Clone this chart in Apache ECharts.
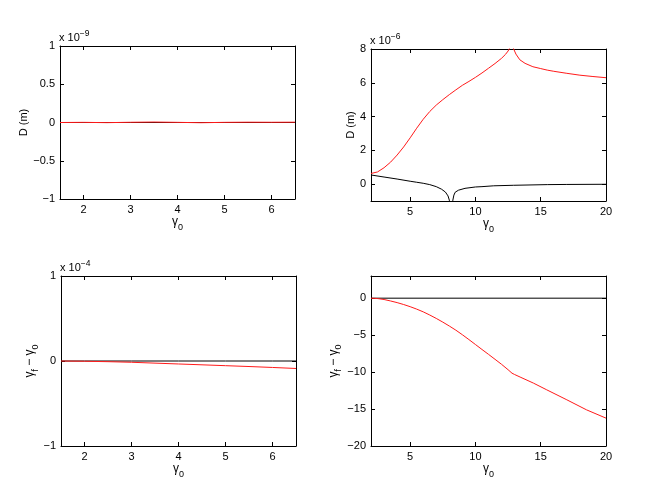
<!DOCTYPE html>
<html><head><meta charset="utf-8">
<script src="https://cdn.jsdelivr.net/npm/echarts@6/dist/echarts.min.js"></script>
<style>html,body{margin:0;padding:0;background:#fff}#c{width:651px;height:482px}</style>
</head><body><div id="c"></div>
<script>
// ---------- data ----------
// top-left: D (m) x 1e-9 vs gamma0
const tlX      = [1.5, 2, 2.5, 3, 3.5, 4, 4.5, 5, 5.5, 6, 6.5];
const tlRed    = [0, 0.002, -0.002, 0.003, 0.006, 0.002, -0.003, 0.002, 0.004, 0.003, 0.004];
const tlBlack  = [0, 0, 0, 0, 0, 0, 0, 0, 0, 0, 0];

// top-right: D (m) x 1e-6 vs gamma0
const trRedX   = [2, 2.5, 3, 3.5, 4, 4.5, 5, 5.5, 6, 6.5, 7, 7.5, 8, 8.5, 9, 9.5, 10, 10.5, 11, 11.5, 12, 12.3, 12.5, 12.6, 12.75, 12.9, 13.1, 13.4, 13.8, 14.4, 15, 15.5, 16, 17, 18, 19, 20];
const trRedY   = [0.63, 0.72, 0.97, 1.3, 1.72, 2.2, 2.74, 3.31, 3.84, 4.3, 4.68, 5.0, 5.3, 5.58, 5.85, 6.08, 6.32, 6.58, 6.86, 7.14, 7.45, 7.68, 7.88, 8.02, 8.6, 8.05, 7.7, 7.36, 7.15, 6.95, 6.84, 6.75, 6.68, 6.56, 6.45, 6.37, 6.3];
const trBlkAX  = [2, 3, 4, 5, 5.5, 6, 6.5, 7, 7.4, 7.7, 7.9, 8.0, 8.05];
const trBlkAY  = [0.54, 0.42, 0.3, 0.17, 0.11, 0.05, -0.03, -0.15, -0.3, -0.47, -0.7, -0.95, -1.3];
const trBlkBX  = [8.22, 8.27, 8.35, 8.45, 8.7, 9.2, 10, 10.5, 11.4, 12.9, 15.5, 17, 20];
const trBlkBY  = [-1.3, -0.95, -0.65, -0.48, -0.36, -0.25, -0.17, -0.15, -0.1, -0.07, -0.03, -0.02, -0.01];

// bottom-left: gamma_f - gamma_0 x 1e-4
const blX      = [1.5, 2, 2.5, 3, 3.5, 4, 4.5, 5, 5.5, 6, 6.5];
const blRed    = [0, -0.003, -0.008, -0.015, -0.025, -0.035, -0.045, -0.055, -0.065, -0.076, -0.088];
const blBlack  = [0, 0, 0, 0, 0, 0, 0, 0, 0, 0, 0];

// bottom-right: gamma_f - gamma_0
const brX      = [2, 2.5, 3, 3.5, 4, 4.5, 5, 5.5, 6, 6.5, 7, 7.5, 8, 8.5, 9, 9.5, 10, 10.5, 11, 11.5, 12, 12.5, 12.8, 13.0, 13.42, 14.44, 15.46, 17, 18.5, 20];
const brRed    = [0, -0.05, -0.18, -0.38, -0.6, -0.86, -1.15, -1.48, -1.85, -2.28, -2.74, -3.24, -3.77, -4.33, -4.95, -5.6, -6.27, -6.94, -7.6, -8.27, -8.95, -9.68, -10.15, -10.33, -10.67, -11.49, -12.4, -13.75, -15.1, -16.23];
const brBlkX   = [2, 20];
const brBlack  = [0, 0];

// ticks
const tlXTicks = [2, 3, 4, 5, 6];
const tlYTicks = [-1, -0.5, 0, 0.5, 1];
const trXTicks = [5, 10, 15, 20];
const trYTicks = [0, 2, 4, 6, 8];
const blXTicks = [2, 3, 4, 5, 6];
const blYTicks = [-1, 0, 1];
const brXTicks = [5, 10, 15, 20];
const brYTicks = [-20, -15, -10, -5, 0];

// ---------- chart ----------
const FONT = 'Liberation Sans, Arial, Helvetica, sans-serif';
const zip = (xs, ys) => xs.map((x, i) => [x, ys[i]]);
const fmt = v => String(v).replace('-', '\u2212');

const grids = [
  {left: 60, top: 46, width: 235, height: 153},
  {left: 371, top: 49, width: 235, height: 152},
  {left: 61, top: 276, width: 235, height: 170},
  {left: 371, top: 276, width: 235, height: 170}
];
const ranges = [
  {x: [1.5, 6.5], y: [-1, 1], xt: tlXTicks, yt: tlYTicks},
  {x: [2, 20], y: [-1, 8], xt: trXTicks, yt: trYTicks},
  {x: [1.5, 6.5], y: [-1, 1], xt: blXTicks, yt: blYTicks},
  {x: [2, 20], y: [-20, 3], xt: brXTicks, yt: brYTicks}
];
const gammaRich = {
  g: {fontSize: 12, fontFamily: FONT, color: '#000', lineHeight: 16, verticalAlign: 'top'},
  s: {fontSize: 9, fontFamily: FONT, color: '#000', lineHeight: 16, verticalAlign: 'bottom'}
};
const yNames = ['D (m)', 'D (m)', '{g|γ}{s|f}{g| \u2212 γ}{s|0}', '{g|γ}{s|f}{g| \u2212 γ}{s|0}'];
const yGaps = [31, 13, 21, 24];
const xGaps = [11, 11, 9, 9];

const xAxes = [], yAxes = [];
ranges.forEach((r, i) => {
  const line = {show: true, onZero: false, lineStyle: {color: '#000', width: 1}};
  xAxes.push({
    type: 'value', gridIndex: i, position: 'bottom', min: r.x[0], max: r.x[1],
    axisLine: line, splitLine: {show: false},
    axisTick: {show: true, inside: true, length: 4, customValues: r.xt, lineStyle: {color: '#000'}},
    axisLabel: {show: true, customValues: r.xt, formatter: fmt, fontSize: 11, fontFamily: FONT, color: '#000', margin: 5},
    name: '{g|γ}{s|0}', nameLocation: 'middle', nameGap: xGaps[i],
    nameTextStyle: {rich: gammaRich}
  });
  xAxes.push({
    type: 'value', gridIndex: i, position: 'top', min: r.x[0], max: r.x[1],
    axisLine: line, splitLine: {show: false},
    axisTick: {show: true, inside: true, length: 4, customValues: r.xt, lineStyle: {color: '#000'}},
    axisLabel: {show: false, customValues: r.xt}
  });
  yAxes.push({
    type: 'value', gridIndex: i, position: 'left', min: r.y[0], max: r.y[1],
    axisLine: line, splitLine: {show: false},
    axisTick: {show: true, inside: true, length: 4, customValues: r.yt, lineStyle: {color: '#000'}},
    axisLabel: {show: true, customValues: r.yt, formatter: fmt, fontSize: 11, fontFamily: FONT, color: '#000', margin: 5},
    name: yNames[i], nameLocation: 'middle', nameRotate: 90, nameGap: yGaps[i],
    nameTextStyle: {fontSize: 11, fontFamily: FONT, color: '#000', rich: gammaRich}
  });
  yAxes.push({
    type: 'value', gridIndex: i, position: 'right', min: r.y[0], max: r.y[1],
    axisLine: line, splitLine: {show: false},
    axisTick: {show: true, inside: true, length: 4, customValues: r.yt, lineStyle: {color: '#000'}},
    axisLabel: {show: false, customValues: r.yt}
  });
});

function ser(gi, data, color) {
  return {
    type: 'line', xAxisIndex: gi * 2, yAxisIndex: gi * 2, data: data,
    showSymbol: false, symbol: 'none', clip: true, smooth: false,
    lineStyle: {color: color, width: 1}, itemStyle: {color: color},
    emphasis: {disabled: true}, silent: true
  };
}
const BLACK = '#000000', RED = '#ff1a1a';
const series = [
  ser(0, zip(tlX, tlBlack), BLACK),
  ser(0, zip(tlX, tlRed), RED),
  ser(1, zip(trRedX, trRedY), RED),
  ser(1, zip(trBlkAX, trBlkAY), BLACK),
  ser(1, zip(trBlkBX, trBlkBY), BLACK),
  ser(2, zip(blX, blBlack), BLACK),
  ser(2, zip(blX, blRed), RED),
  ser(3, zip(brBlkX, brBlack), BLACK),
  ser(3, zip(brX, brRed), RED)
];

const expRich = {
  a: {fontSize: 11, fontFamily: FONT, fill: '#000', lineHeight: 14, verticalAlign: 'bottom'},
  b: {fontSize: 8.5, fontFamily: FONT, fill: '#000', lineHeight: 14, verticalAlign: 'top'}
};
const graphic = [
  {type: 'text', left: 59, top: 29, silent: true, style: {text: '{a|x 10}{b|\u22129}', rich: expRich}},
  {type: 'text', left: 370, top: 32, silent: true, style: {text: '{a|x 10}{b|\u22126}', rich: expRich}},
  {type: 'text', left: 60, top: 259, silent: true, style: {text: '{a|x 10}{b|\u22124}', rich: expRich}}
];

const chart = echarts.init(document.getElementById('c'), null, {renderer: 'canvas'});
chart.setOption({
  animation: false,
  backgroundColor: '#ffffff',
  grid: grids,
  xAxis: xAxes,
  yAxis: yAxes,
  series: series,
  graphic: graphic
});
</script>
</body></html>
